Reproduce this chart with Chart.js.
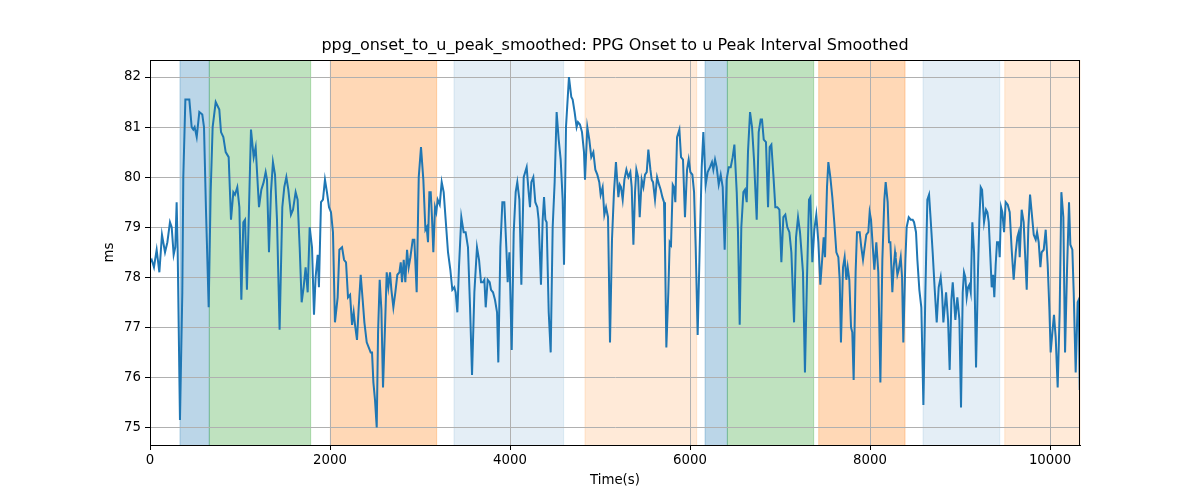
<!DOCTYPE html>
<html>
<head>
<meta charset="utf-8">
<script src="https://cdn.jsdelivr.net/npm/chart.js@4.4.1/dist/chart.umd.min.js"></script>
<style>
  html, body { margin: 0; padding: 0; background: #fff; }
</style>
</head>
<body>
<canvas id="myChart" width="1200" height="500"></canvas>
<script>
const chartTitle = 'ppg_onset_to_u_peak_smoothed: PPG Onset to u Peak Interval Smoothed'

// time (ms) of each sample and the smoothed interval value (ms)
const times = [
  0,19,44,74,104,133,167,193,222,241,263,281,296,307,333,359,370,393,437,463,481,496,519,548,581,600,622,652,674,696,730,770,789,815,841,874,900,926,944,970,993,1015,1037,1056,
  1077,1122,1152,1174,1211,1237,1263,1285,1300,1322,1344,1366,1389,1411,1440,1470,1492,1515,1537,1566,1589,1618,1640,1663,1685,1707,1729,1752,1774,1800,1822,1840,1863,1877,1900,1922,1944,1966,1989,2011,2033,2055,
  2085,2104,2134,2156,2178,2200,2223,2245,2263,2278,2300,2319,2341,2363,2382,2408,2430,2452,2467,2482,2500,2519,2534,2552,2571,2589,2611,2630,2648,2667,2682,2704,2726,2748,2771,2786,2800,2819,2837,2856,2874,2893,2919,2937,2963,2986,3011,3037,3060,3074,3089,3104,
  3119,3133,3148,3167,3181,3196,3219,3241,3263,3285,3311,3337,3359,3381,3396,3415,3433,3459,3485,3507,3533,3556,3578,3604,3633,3656,3678,3700,3715,3730,3752,3774,3789,3811,3833,3856,3870,3893,3915,3937,3959,3974,3993,4019,4041,4063,4081,4104,4126,
  4152,4185,4207,4222,4237,4259,4281,4303,4318,4344,4363,4378,4393,4407,4430,4452,4474,4496,4518,4541,4563,4585,4600,4622,4655,4681,4696,4718,4740,4755,4777,4800,4822,4833,4859,4881,4903,4926,4948,4970,4992,5007,5029,5048,5067,5089,5111,5133,5155,5177,
  5204,5219,5233,5252,5271,5293,5315,5337,5352,5371,5389,5404,5423,5441,5463,5482,5500,5519,5537,5560,5574,5589,5611,5634,5656,5674,5693,5711,5722,5737,5759,5774,5789,5808,5822,5837,5856,5882,5900,5922,5944,5967,5985,6004,6026,6045,6063,6085,6107,6130,6148,6174,6196,
  6222,6244,6259,6278,6296,6319,6341,6363,6385,6407,6430,6452,6474,6493,6519,6533,6552,6570,6593,6611,6630,6644,6667,6689,6711,6741,6763,6785,6800,6819,6844,6867,6885,6904,6926,6948,6970,6993,7015,7037,7059,7081,7104,7126,7156,7178,7200,7222,
  7255,7277,7300,7322,7337,7359,7381,7403,7426,7448,7470,7485,7500,7522,7537,7559,7581,7603,7626,7648,7663,7677,7700,7718,7737,7752,7770,7789,7803,7818,7840,7855,7870,7885,7903,7922,7944,7959,7981,7996,8011,8033,8048,8070,8092,8115,8137,8159,8174,8196,8211,8226,8248,8263,8278,
  8285,8304,8319,8341,8356,8370,8393,8407,8430,8452,8474,8489,8511,8526,8548,8570,8593,8615,8637,8656,8674,8696,8719,8741,8763,8785,8800,8815,8830,8845,8867,8885,8904,8919,8933,8948,8970,8993,9011,9030,9044,9059,9074,9089,9104,9119,9137,9156,9178,9200,9215,9230,9245,9267,9289,9304,
  9319,9337,9352,9367,9381,9396,9411,9430,9441,9456,9470,9489,9507,9530,9552,9574,9596,9619,9637,9652,9663,9685,9707,9722,9741,9759,9778,9796,9819,9841,9856,9874,9893,9907,9930,9952,9974,9993,10007,10026,10044,10063,10085,10107,10126,10148,10167,10189,10211,10226,10248,10263,10285,10307,10319,10330
]
const values = [
  78.3,78.35,78.2,78.55,78.1,78.85,78.5,78.7,79.1,79.0,78.45,78.6,79.5,78.6,75.15,77.7,80.0,81.55,81.55,81.0,80.95,81.0,80.8,81.3,81.25,81.0,79.35,77.4,79.7,81.0,81.5,81.35,80.9,80.8,80.5,80.4,79.15,79.7,79.65,79.8,79.4,77.55,79.1,79.15,
  77.75,80.95,80.4,80.6,79.4,79.75,79.9,80.1,79.95,78.5,79.7,80.3,80.05,79.15,76.95,79.4,79.8,80.0,79.75,79.25,79.35,79.7,79.55,78.6,77.5,77.8,78.2,77.7,79.0,78.6,77.25,78.0,78.45,77.8,79.5,79.55,79.95,79.7,79.4,79.3,78.9,77.1,
  77.6,78.55,78.6,78.35,78.3,77.6,77.65,77.05,77.3,77.05,76.75,77.4,78.05,77.55,77.1,76.7,76.6,76.5,76.5,75.9,75.55,75.0,76.9,77.95,77.35,75.8,77.0,78.1,77.8,78.1,77.75,77.4,77.7,78.05,78.1,78.3,77.9,78.35,77.9,78.55,78.2,78.4,78.75,78.75,77.7,80.0,80.6,79.95,78.95,79.0,78.7,79.7,
  79.7,79.2,78.5,79.4,79.3,79.55,79.45,79.9,79.7,79.15,78.5,78.15,77.75,77.8,77.7,77.3,78.2,79.2,78.9,78.9,78.6,77.4,76.05,77.7,78.6,78.35,77.9,77.9,77.95,77.4,77.95,77.9,77.75,77.7,77.55,77.3,76.3,78.6,79.5,79.5,78.6,77.9,78.5,76.55,78.9,79.7,79.9,79.55,77.85,
  80.0,80.2,79.7,79.4,79.9,80.0,79.5,79.4,79.15,77.85,79.15,79.6,79.15,79.1,77.3,76.5,79.0,79.9,81.3,80.75,80.35,79.55,78.25,81.0,82.0,81.6,81.55,81.3,81.0,81.1,81.05,80.9,80.5,79.95,81.0,80.75,80.4,80.5,80.15,80.05,79.9,79.65,79.8,79.25,79.4,79.2,76.7,78.75,79.7,80.3,
  79.6,79.85,79.8,79.55,79.95,80.15,80.0,80.1,79.8,78.65,79.7,80.15,80.0,79.2,79.95,79.8,80.05,80.1,80.55,80.15,79.95,79.9,79.55,80.0,79.85,79.75,79.6,79.5,78.6,76.6,77.7,78.7,78.65,79.85,79.8,79.5,80.8,80.95,80.4,80.35,79.2,80.15,80.35,80.1,80.05,79.7,78.6,76.85,78.55,80.2,80.9,79.85,80.1,
  80.2,80.3,80.15,80.35,80.2,79.85,80.05,79.8,78.55,79.95,80.2,80.2,80.4,80.65,79.7,78.9,77.05,79.0,79.7,79.75,79.5,80.5,81.3,81.0,80.35,79.15,80.9,81.15,81.15,80.75,80.7,79.4,80.6,80.65,80.05,79.4,79.4,79.35,78.3,79.2,79.25,79.0,78.9,78.5,77.1,78.8,79.2,78.9,
  78.1,76.1,78.0,79.55,79.6,78.3,78.95,79.25,78.7,77.85,78.4,78.8,78.4,79.8,80.3,80.0,79.6,79.1,78.5,78.4,77.95,76.7,78.2,78.4,77.95,78.2,77.95,77.0,76.9,75.95,78.1,78.9,78.9,78.9,78.6,78.35,78.65,78.85,78.9,79.3,79.15,78.55,78.15,78.7,78.1,75.9,78.35,79.55,79.9,79.5,78.7,78.7,77.7,78.2,78.5,
  78.4,78.05,78.15,78.4,78.0,76.7,78.35,79.0,79.2,79.15,79.15,79.1,78.9,78.35,77.75,77.4,75.45,77.7,79.55,79.65,79.15,78.5,77.75,77.1,77.8,78.0,77.7,77.1,77.4,77.7,77.15,76.15,77.55,77.9,77.55,77.15,77.6,77.15,75.4,77.7,78.1,78.0,77.6,77.8,77.85,77.7,79.1,78.5,76.2,78.15,79.15,79.8,79.75,79.1,79.35,79.3,
  79.1,78.4,77.8,78.05,77.6,78.25,78.7,78.7,78.4,79.4,79.3,78.9,79.5,79.45,79.3,78.55,77.95,78.5,78.8,78.9,78.4,79.35,79.1,78.5,77.75,79.0,79.65,79.3,78.85,78.75,78.9,78.7,78.2,78.5,78.55,78.95,78.25,77.35,76.5,76.9,77.25,76.8,75.8,77.3,79.7,79.2,76.5,78.15,79.5,78.65,78.55,77.7,76.1,77.5,77.55,75.75
]

// shaded segments behind the line
const bandStart = [333, 659, 2004, 3378, 4833, 6167, 6415, 7430, 8589, 9497]
const bandEnd   = [659, 1785, 3185, 4596, 6074, 6415, 7374, 8389, 9441, 10333]
const bandKind  = ['blue', 'green', 'orange', 'paleBlue', 'paleOrange', 'blue', 'green', 'orange', 'paleBlue', 'paleOrange']

const xTicks = [0, 2000, 4000, 6000, 8000, 10000]
const yTicks = [75, 76, 77, 78, 79, 80, 81, 82]

const bandColors = {
    blue: 'rgba(31,119,180,0.3)',
    green: 'rgba(44,160,44,0.3)',
    orange: 'rgba(255,127,14,0.3)',
    paleBlue: 'rgba(31,119,180,0.12)',
    paleOrange: 'rgba(255,127,14,0.16)'
}

const bandsPlugin = {
    id: 'bands',
    beforeDraw(chart) {
        const { ctx, chartArea: a, scales: { x } } = chart
        ctx.save()
        for (let i = 0; i < bandStart.length; i++) {
            const x0 = x.getPixelForValue(bandStart[i])
            const x1 = Math.min(x.getPixelForValue(bandEnd[i]), a.right)
            ctx.fillStyle = bandColors[bandKind[i]]
            ctx.fillRect(x0, a.top, x1 - x0, a.bottom - a.top)
            ctx.strokeStyle = bandColors[bandKind[i]]
            ctx.lineWidth = 1
            ctx.beginPath()
            ctx.moveTo(x0, a.top); ctx.lineTo(x0, a.bottom)
            ctx.moveTo(x1, a.top); ctx.lineTo(x1, a.bottom)
            ctx.stroke()
        }
        ctx.restore()
    }
}

// frame on all four sides + title centred over the plot area (matplotlib style)
const framePlugin = {
    id: 'frame',
    afterDraw(chart) {
        const { ctx, chartArea: a } = chart
        ctx.save()
        ctx.strokeStyle = '#000'
        ctx.lineWidth = 1
        ctx.strokeRect(Math.round(a.left) + 0.5, Math.round(a.top) + 0.5, Math.round(a.right - a.left) - 1, Math.round(a.bottom - a.top))
        ctx.fillStyle = '#000'
        ctx.font = '16px "DejaVu Sans"'
        ctx.textAlign = 'center'
        ctx.textBaseline = 'middle'
        ctx.fillText(chartTitle, (a.left + a.right) / 2, a.top - 14)
        ctx.restore()
    }
}

const font = { family: 'DejaVu Sans', size: 13.3 }

new Chart(document.getElementById('myChart'), {
    type: 'line',
    data: {
        datasets: [{
            data: times.map((t, i) => ({ x: t, y: values[i] })),
            borderColor: '#1f77b4',
            borderWidth: 2,
            pointRadius: 0,
            tension: 0,
            fill: false
        }]
    },
    options: {
        responsive: false,
        animation: false,
        devicePixelRatio: 1,
        layout: { padding: { left: 0, right: 120, top: 60, bottom: 0 } },
        plugins: {
            legend: { display: false },
            tooltip: { enabled: false },
            title: { display: false }
        },
        scales: {
            x: {
                type: 'linear',
                min: 0,
                max: 10333,
                afterBuildTicks: s => { s.ticks = xTicks.map(v => ({ value: v })) },
                afterFit: s => { s.height = 55 },
                grid: { color: '#b0b0b0', lineWidth: 1, tickColor: '#000', tickLength: 5 },
                border: { color: '#000', width: 1 },
                ticks: { color: '#000', font, padding: 3, maxRotation: 0, callback: v => String(v) },
                title: { display: true, text: 'Time(s)', color: '#000', font, padding: { top: 0, bottom: 11 } }
            },
            y: {
                min: 74.65,
                max: 82.34,
                afterBuildTicks: s => { s.ticks = yTicks.map(v => ({ value: v })) },
                afterFit: s => { s.width = 150 },
                grid: { color: '#b0b0b0', lineWidth: 1, tickColor: '#000', tickLength: 5 },
                border: { color: '#000', width: 1 },
                ticks: { color: '#000', font, padding: 4, callback: v => String(v) },
                title: { display: true, text: 'ms', color: '#000', font, padding: { top: 102, bottom: 0 } }
            }
        }
    },
    plugins: [bandsPlugin, framePlugin]
})
</script>
</body>
</html>
